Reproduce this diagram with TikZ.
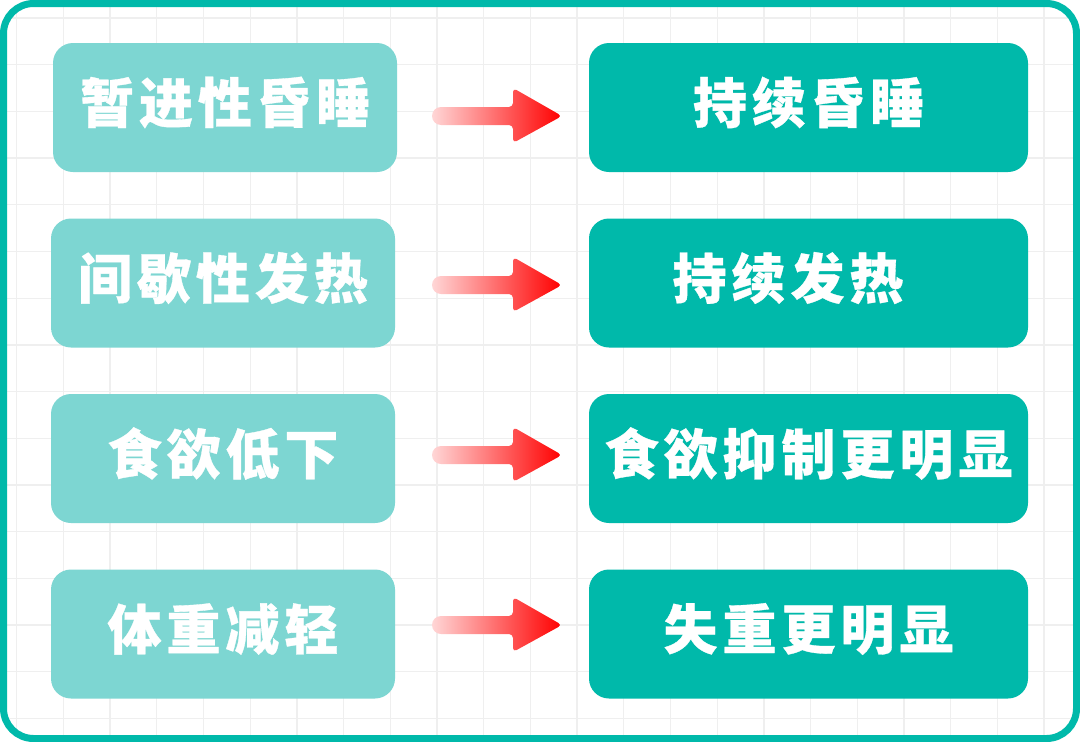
\documentclass[tikz,border=0pt]{standalone}
\usepackage{fontspec}
\newfontfamily\cjk{Noto Sans CJK SC}[BoldFeatures={FakeBold=0.6}]
\definecolor{tealA}{HTML}{7DD6D2}
\definecolor{tealB}{HTML}{00B9AA}
\definecolor{gridc}{HTML}{EFEFEF}
\newcommand\gp{\hspace{5pt}}
\newcommand\up[1]{\raisebox{5pt}[\height][\depth]{#1}}
\begin{document}
\begin{tikzpicture}[x=1pt,y=-1pt,
  txt/.style={inner sep=0pt, text=white, font=\cjk\bfseries\fontsize{54}{60}\selectfont},
  box/.style={txt, rounded corners=20pt},
  lbox/.style={box, fill=tealA, minimum width=344pt, minimum height=129pt},
  rbox/.style={box, fill=tealB, minimum width=439pt, minimum height=129pt},
  redarrow/.style={left color=red!16, right color=red}]
\useasboundingbox (0,0) rectangle (1080,742);
\fill[white] (0,0) rectangle (1080,742);
\begin{scope}
  \clip[rounded corners=30pt] (3.5,3.5) rectangle (1076.5,738.5);
  \foreach \i in {0,...,22} {
    \draw[gridc, line width=1.3pt] (16.7+46.7*\i,0) -- (16.7+46.7*\i,742);
  }
  \foreach \j in {0,...,15} {
    \draw[gridc, line width=1.3pt] (0,18+46.7*\j) -- (1080,18+46.7*\j);
  }
\end{scope}
\draw[tealB, line width=7pt, rounded corners=30pt] (3.5,3.5) rectangle (1076.5,738.5);

\node[lbox] (l1) at (225,107.5) {\up{暂\gp 进\gp 性\gp 昏\gp 睡}};
\node[lbox] (l2) at (223,283) {\up{间\gp 歇\gp 性\gp 发\gp 热}};
\node[lbox] (l3) at (223,458.5) {\up{食\gp 欲\gp 低\gp 下}};
\node[lbox] (l4) at (223,634) {\up{体\gp 重\gp 减\gp 轻}};

\node[rbox] (r1) at (808.5,107.5) {\up{持\gp 续\gp 昏\gp 睡}};
\node[rbox] (r2) at (808.5,283) {};
\node[txt] (r2t) at (788,283) {\up{持\gp 续\gp 发\gp 热}};
\node[rbox] (r3) at (808.5,458.5) {\up{食\gp 欲\gp 抑\gp 制\gp 更\gp 明\gp 显}};
\node[rbox] (r4) at (808.5,634) {\up{失\gp 重\gp 更\gp 明\gp 显}};

\foreach \y in {116,285,455,625} {
  \shade[redarrow] (470,\y-9) [rounded corners=4pt] -- (513,\y-9) -- (513,\y-28)
    -- (562,\y) -- (513,\y+27) -- (513,\y+9) [rounded corners=9pt] -- (432,\y+9)
    -- (432,\y-9) -- cycle;
}
\end{tikzpicture}
\end{document}
